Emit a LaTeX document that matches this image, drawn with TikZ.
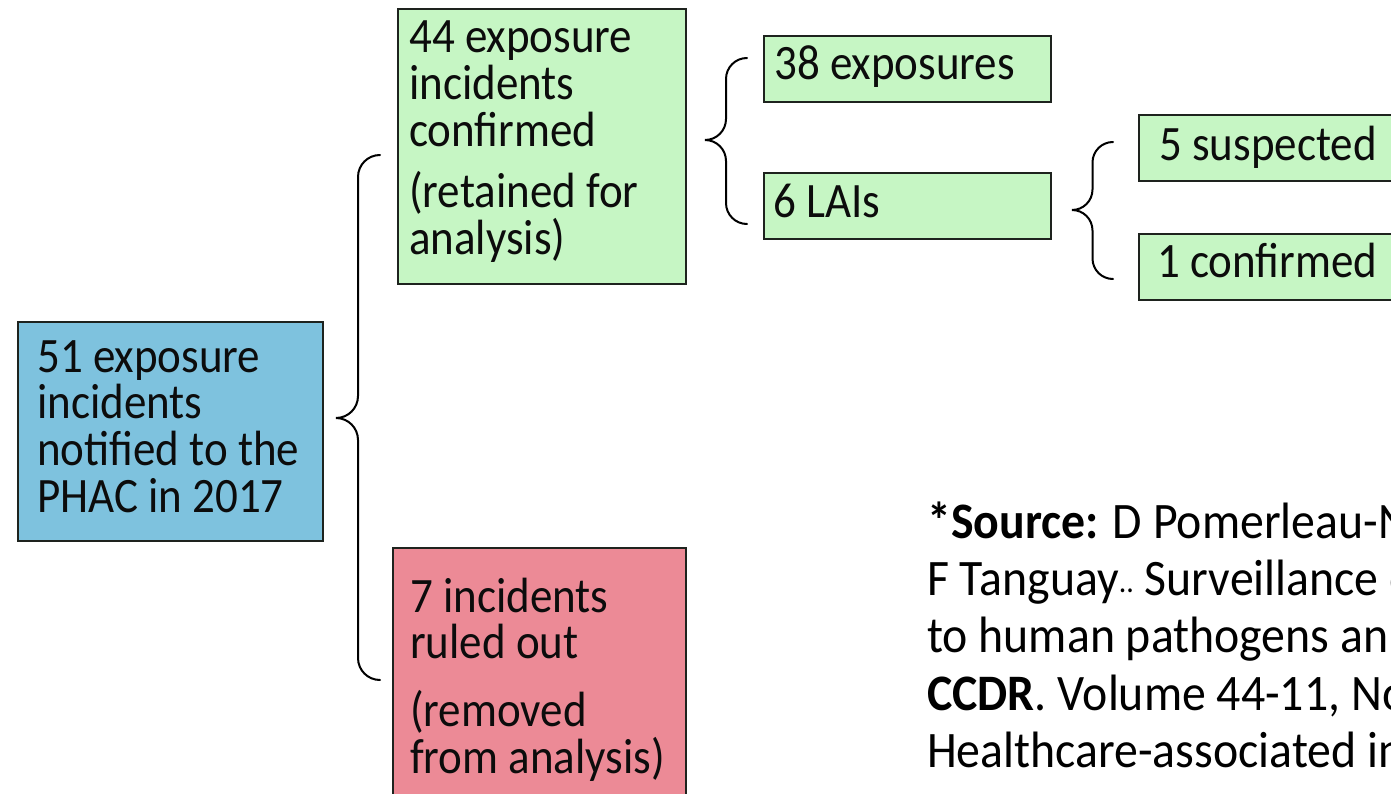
\documentclass[tikz,border=0pt]{standalone}
\usepackage{fontspec}
\setmainfont{Carlito}
\usepackage{graphicx}
\usetikzlibrary{calc}
\definecolor{bluefill}{RGB}{126,194,222}
\definecolor{greenfill}{RGB}{198,246,196}
\definecolor{redfill}{RGB}{236,138,150}
\definecolor{edgecol}{RGB}{30,35,30}
\definecolor{ink}{RGB}{12,12,12}
% #1 vertical stretch, #2 font size, #3 baselineskip, #4 rows separated by \cr
\newcommand{\btxt}[4]{\scalebox{1}[#1]{\fontsize{#2}{#3}\selectfont\vtop{\lineskiplimit=-100pt\lineskip=0pt\halign{##\hfil\cr#4\crcr}}}}
% #1 top end, #2 bottom end, #3 tip, #4 radius
\newcommand{\cbrace}[4]{\draw[bracestyle] (#1) to[out=180,in=90] ($(#1)+(-#4,-#4)$) -- ($(#3)+(#4,#4)$) to[out=-90,in=0] (#3) to[out=0,in=90] ($(#3)+(#4,-#4)$) -- ($(#2)+(-#4,#4)$) to[out=-90,in=180] (#2);}
\begin{document}
\begin{tikzpicture}[x=1pt,y=1pt,
  box/.style={draw=edgecol, line width=2pt, rectangle, inner sep=0pt, anchor=north west},
  txt/.style={inner sep=0pt, anchor=base west, text=ink},
  bracestyle/.style={draw=black, line width=2pt, line cap=round}]
\useasboundingbox (0,0) rectangle (1391,-794);
\fill[white] (0,0) rectangle (1391,-794);
\clip (0,0) rectangle (1391,-794);

% boxes
\node[box, fill=bluefill, minimum width=305, minimum height=219] (b51) at (17,-321) {};
\node[box, fill=greenfill, minimum width=288, minimum height=275] (b44) at (397,-8) {};
\node[box, fill=greenfill, minimum width=287, minimum height=66] (b38) at (763,-35) {};
\node[box, fill=greenfill, minimum width=287, minimum height=66] (b6) at (763,-172) {};
\node[box, fill=greenfill, minimum width=320, minimum height=66] (b5) at (1138,-114) {};
\node[box, fill=greenfill, minimum width=320, minimum height=66] (b1) at (1138,-233) {};
\node[box, fill=redfill, minimum width=293, minimum height=330] (b7) at (392,-547) {};

% texts
\node[txt] (t51) at (37,-372) {\btxt{1.1}{45}{42.7}{51 exposure\cr incidents\cr notified to the\cr PHAC in 2017}};
\node[txt] (t44) at (409,-53) {\btxt{1.1}{45}{42.7}{44 exposure\cr incidents\cr confirmed\cr\noalign{\vskip12.7pt}(retained for\cr analysis)}};
\node[txt] (t38) at (774,-80) {\btxt{1.1}{45}{42.7}{38 exposures}};
\node[txt] (t6) at (773,-218) {\btxt{1.1}{45}{42.7}{6 LAIs}};
\node[txt] (t5) at (1159,-161) {\btxt{1.1}{45}{42.7}{5 suspected}};
\node[txt] (t1) at (1157,-277) {\btxt{1.1}{45}{42.7}{1 confirmed}};
\node[txt] (t7) at (410,-612) {\btxt{1.1}{45}{42.7}{7 incidents\cr ruled out\cr\noalign{\vskip19pt}(removed\cr from analysis)}};

% source
\node[txt, text=black] (src) at (927,-538) {\btxt{1.07}{47.8}{53.7}{\textbf{*Source:} D Pomerleau-N\cr F Tanguay{\fontsize{30}{30}\selectfont\raisebox{3pt}{..}} Surveillance o\cr to human pathogens an\cr \textbf{CCDR}. Volume 44-11, No\cr Healthcare-associated in}};

% braces
\coordinate (bAtop) at (380,-155);
\coordinate (bAbot) at (380,-680);
\coordinate (bAtip) at (336,-418);
\coordinate (bBtop) at (747,-58);
\coordinate (bBbot) at (747,-224);
\coordinate (bBtip) at (705,-140);
\coordinate (bCtop) at (1113,-142);
\coordinate (bCbot) at (1113,-279);
\coordinate (bCtip) at (1072,-210);
\cbrace{bAtop}{bAbot}{bAtip}{22}
\cbrace{bBtop}{bBbot}{bBtip}{21}
\cbrace{bCtop}{bCbot}{bCtip}{20.5}
\end{tikzpicture}
\end{document}
